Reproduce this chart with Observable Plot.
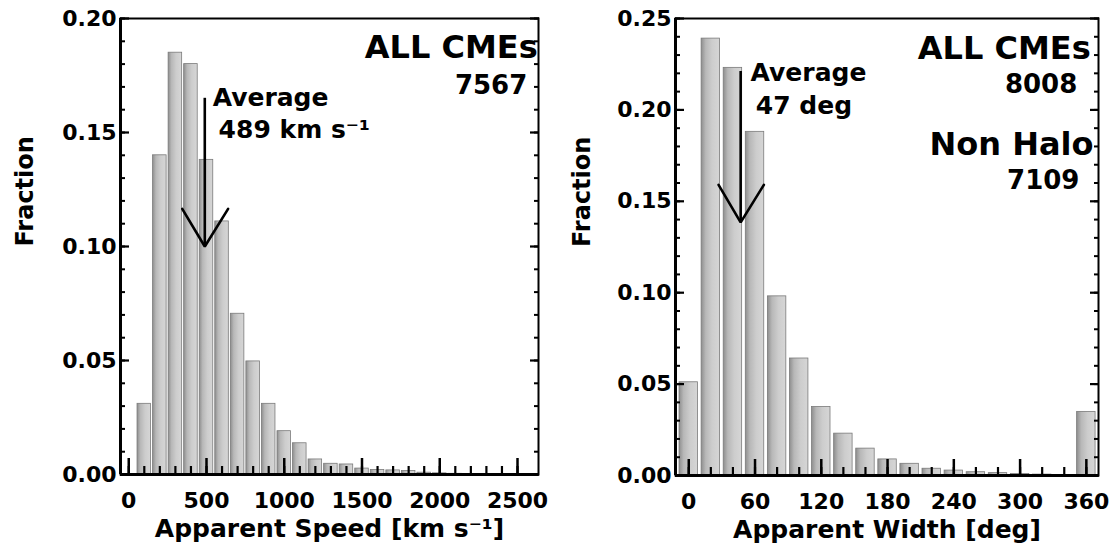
<!DOCTYPE html>
<html><head><meta charset="utf-8">
<script src="https://cdn.jsdelivr.net/npm/d3@7"></script>
<script src="https://cdn.jsdelivr.net/npm/@observablehq/plot@0.6"></script>
<style>
body{margin:0;background:#fff;}
#wrap{display:flex;width:1109px;height:548px;}
#wrap > div{flex:none;}
</style></head><body>
<svg width="0" height="0" style="position:absolute">
<defs>
<linearGradient id="barShade" x1="0" x2="1" y1="0" y2="0">
<stop offset="0" stop-color="#8e8e8e"/>
<stop offset="0.25" stop-color="#b8b8b8"/>
<stop offset="0.6" stop-color="#cdcdcd"/>
<stop offset="1" stop-color="#d6d6d6"/>
</linearGradient>
</defs></svg>
<div id="wrap"><div id="left"></div><div id="right"></div></div>
<script>
// ---- Data ----
const speedBins = [100,200,300,400,500,600,700,800,900,1000,1100,1200,1300,1400,1500,1600,1700,1800,1900,2000,2100,2200];
const speedFraction = [0.031,0.140,0.185,0.180,0.138,0.111,0.0705,0.0496,0.031,0.019,0.0137,0.0066,0.0047,0.0044,0.0026,0.0020,0.0018,0.0015,0.0008,0.0005,0.0003,0.0002];
const widthBins = [0,20,40,60,80,100,120,140,160,180,200,220,240,260,280,300,320,340,360];
const widthFraction = [0.051,0.239,0.223,0.188,0.098,0.064,0.0375,0.0229,0.0147,0.0088,0.0064,0.0037,0.0027,0.0018,0.0013,0.0008,0.0005,0.0003,0.0348];
const speedTicks = [0,500,1000,1500,2000,2500];
const widthTicks = [0,60,120,180,240,300,360];
const speedFractionTicks = [0,0.05,0.10,0.15,0.20];
const widthFractionTicks = [0,0.05,0.10,0.15,0.20,0.25];
const speedAverage = {value: 489, top: 0.165, tip: 0.100, armLeft: 344, armRight: 639, armY: 0.1165};
const widthAverage = {value: 47, top: 0.221, tip: 0.1385, armLeft: 27, armRight: 68, armY: 0.159};
const speedLabels = [
  {text: "ALL CMEs", x: 2630, y: 0.1825, anchor: "end", size: 32},
  {text: "7567", x: 2330, y: 0.1670, anchor: "middle", size: 26},
  {text: "Average", x: 540, y: 0.1618, anchor: "start", size: 25},
  {text: "489 km s\u207B\u00B9", x: 578, y: 0.1475, anchor: "start", size: 25}
];
const widthLabels = [
  {text: "ALL CMEs", x: 364, y: 0.2281, anchor: "end", size: 32},
  {text: "8008", x: 319, y: 0.2090, anchor: "middle", size: 26},
  {text: "Non Halo", x: 366.5, y: 0.1751, anchor: "end", size: 32},
  {text: "7109", x: 321, y: 0.1565, anchor: "middle", size: 26},
  {text: "Average", x: 56, y: 0.216, anchor: "start", size: 25},
  {text: "47 deg", x: 60.7, y: 0.1975, anchor: "start", size: 25}
];

function panel(o) {
  const bars = o.bins.map((b, i) => ({x: b, v: o.values[i]}));
  const minorX = d3.range(o.xTicks[0], o.xTicks[o.xTicks.length - 1] + o.xMinor / 2, o.xMinor);
  const minorY = d3.range(0, o.yDomain[1] + 1e-9, 0.01);
  const av = o.avg;
  const head = [
    {x: av.armLeft, y: av.armY}, {x: av.value, y: av.tip}, {x: av.armRight, y: av.armY}
  ];
  const hw = o.barWidth / 2;
  return Plot.plot({
    width: o.width, height: 548,
    marginLeft: o.marginLeft, marginRight: o.marginRight, marginTop: o.marginTop, marginBottom: o.marginBottom,
    style: {fontFamily: "DejaVu Sans", fontWeight: "bold", color: "black", background: "white"},
    x: {domain: o.xDomain},
    y: {domain: o.yDomain},
    marks: [
      Plot.rectY(bars, {x1: d => d.x - hw, x2: d => d.x + hw, y1: 0, y2: "v", fill: "url(#barShade)", stroke: "#7a7a7a", strokeWidth: 0.8}),
      Plot.axisX(minorX, {anchor: "bottom", tickSize: -8, fill: "none", label: null, strokeWidth: 2.2}),
      Plot.axisX(o.xTicks, {anchor: "bottom", tickSize: -16, fill: "none", label: null, strokeWidth: 2.5}),
      Plot.axisX(o.xTicks, {anchor: "bottom", tickSize: 0, tickPadding: 18, tickFormat: d3.format("d"), label: null, fontSize: 22, fontWeight: "bold"}),
      Plot.axisY(minorY, {anchor: "left", tickSize: -5, fill: "none", label: null, strokeWidth: 2}),
      Plot.axisY(o.yTicks, {anchor: "left", tickSize: -9, fill: "none", label: null, strokeWidth: 2.2}),
      Plot.axisY(minorY, {anchor: "right", tickSize: -5, fill: "none", label: null, strokeWidth: 2}),
      Plot.axisY(o.yTicks, {anchor: "right", tickSize: -9, fill: "none", label: null, strokeWidth: 2.2}),
      Plot.axisY(o.yTicks, {anchor: "left", tickSize: 0, tickPadding: 4, tickFormat: d3.format(".2f"), label: null, fontSize: 22, fontWeight: "bold"}),
      Plot.frame({stroke: "black", strokeWidth: 2}),
      Plot.ruleX([o.xDomain[0]], {stroke: "black", strokeWidth: 3}),
      Plot.ruleY([0], {stroke: "black", strokeWidth: 3}),
      Plot.ruleX([av], {x: "value", y1: "top", y2: "tip", stroke: "black", strokeWidth: 2.6}),
      Plot.line(head, {x: "x", y: "y", stroke: "black", strokeWidth: 2.6, strokeLinejoin: "miter"}),
      ...o.labels.map(l => Plot.text([l], {x: "x", y: "y", text: "text", textAnchor: l.anchor, lineAnchor: "bottom", fontSize: l.size, fontWeight: "bold", fill: "black"})),
      Plot.text([o.xTitle], {frameAnchor: "bottom", dy: 62, lineAnchor: "bottom", fontSize: 25, fontWeight: "bold", fill: "black"}),
      Plot.text([o.yTitle], {frameAnchor: "left", dx: o.yTitleDx, rotate: -90, fontSize: 24, fontWeight: "bold", fill: "black"})
    ]
  });
}

document.getElementById("left").append(panel({
  bins: speedBins, values: speedFraction, barWidth: 87,
  xDomain: [-53, 2635], yDomain: [0, 0.20], xTicks: speedTicks, xMinor: 100, yTicks: speedFractionTicks,
  width: 554, marginLeft: 120, marginRight: 16, marginTop: 18, marginBottom: 74,
  avg: speedAverage, labels: speedLabels,
  xTitle: "Apparent Speed [km s\u207B\u00B9]", yTitle: "Fraction", yTitleDx: -95
}));
document.getElementById("right").append(panel({
  bins: widthBins, values: widthFraction, barWidth: 16.7,
  xDomain: [-12, 371], yDomain: [0, 0.25], xTicks: widthTicks, xMinor: 20, yTicks: widthFractionTicks,
  width: 555, marginLeft: 121, marginRight: 11, marginTop: 18, marginBottom: 73,
  avg: widthAverage, labels: widthLabels,
  xTitle: "Apparent Width [deg]", yTitle: "Fraction", yTitleDx: -93
}));
</script>
</body></html>
